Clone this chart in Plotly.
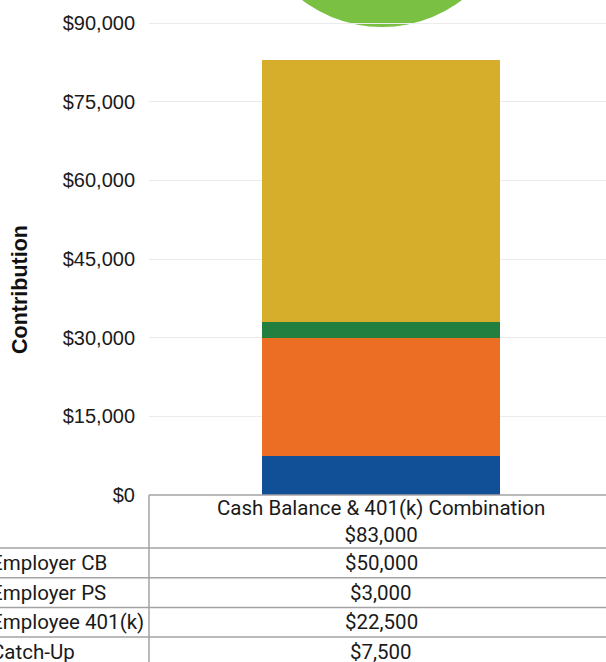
import plotly.graph_objects as go

# ---- data ----
category = ["Cash Balance & 401(k) Combination"]
total = [83000]
series_names = ["Catch-Up", "Employee 401(k)", "Employer PS", "Employer CB"]
series_values = [[7500], [22500], [3000], [50000]]
series_colors = ["#114F96", "#EB6E24", "#237F3F", "#D7AE2B"]
table_labels = ["Employer CB", "Employer PS", "Employee 401(k)", "Catch-Up"]
table_values = [50000, 3000, 22500, 7500]
y_ticks = [0, 15000, 30000, 45000, 60000, 75000, 90000]

W, H = 606, 662


def px(x):
    return x / W


def py(y):
    return 1 - y / H


fig = go.Figure()
for name, vals, col in zip(series_names, series_values, series_colors):
    fig.add_trace(go.Bar(x=category, y=vals, name=name, marker=dict(color=col, line=dict(width=0)),
                         width=0.521, hoverinfo="name+y"))

grid_top = 495
fig.update_layout(
    width=W, height=H,
    margin=dict(l=0, r=0, t=0, b=0),
    paper_bgcolor="white", plot_bgcolor="white",
    barmode="stack", showlegend=False,
    xaxis=dict(domain=[px(149), 1], range=[-0.5077, 0.4923], showticklabels=False,
               showgrid=False, zeroline=False, showline=False, fixedrange=True),
    yaxis=dict(domain=[py(grid_top), 1], range=[0, 90000 * 495 / 472],
               tickvals=y_ticks, tickformat="$,.0f",
               tickfont=dict(family="Liberation Sans, Arial", size=20, color="#1a1a1a"),
               ticklabelstandoff=13,
               showgrid=True, gridcolor="#EBEBEB", gridwidth=1,
               zeroline=False, showline=False, automargin=False),
)

# y axis title
fig.add_annotation(xref="paper", yref="paper", x=px(20), y=py(290), showarrow=False,
                   text="<b>Contribution</b>", textangle=-90, xanchor="center", yanchor="middle",
                   font=dict(family="Liberation Sans, Arial", size=21.5, color="#111"))

# decorative circle at top
fig.add_shape(type="circle", xref="paper", yref="paper",
              x0=px(382 - 132), x1=px(382 + 132), y0=py(27), y1=py(27 - 264),
              fillcolor="#7AC143", line=dict(width=0), layer="below")

# ---- data table below the axis ----
line_col = "#A3A3A3"
lw = 1.5
tfont = dict(family="Roboto, Noto Sans", size=20.5, color="#1a1a1a")
col_center = (149 + 613) / 2
header_bottom = 548
row_h = 29.7

fig.add_shape(type="line", xref="paper", yref="paper", x0=px(149), x1=1, y0=py(grid_top), y1=py(grid_top),
              line=dict(color=line_col, width=lw))
fig.add_shape(type="line", xref="paper", yref="paper", x0=px(149), x1=px(149), y0=py(grid_top), y1=0,
              line=dict(color=line_col, width=lw))
for i in range(len(table_labels)):
    yl = header_bottom + i * row_h
    fig.add_shape(type="line", xref="paper", yref="paper", x0=0, x1=1, y0=py(yl), y1=py(yl),
                  line=dict(color=line_col, width=lw))

fig.add_annotation(xref="paper", yref="paper", x=px(col_center), y=py(521), showarrow=False,
                   text=f"{category[0]}<br>${total[0]:,}", font=tfont, align="center",
                   xanchor="center", yanchor="middle")
for i, (lab, val) in enumerate(zip(table_labels, table_values)):
    yc = header_bottom + i * row_h + row_h / 2
    fig.add_annotation(xref="paper", yref="paper", x=px(-11), y=py(yc), showarrow=False,
                       text=lab, font=tfont, xanchor="left", yanchor="middle")
    fig.add_annotation(xref="paper", yref="paper", x=px(col_center), y=py(yc), showarrow=False,
                       text=f"${val:,}", font=tfont, xanchor="center", yanchor="middle")

fig.write_html("out.html", config={"displayModeBar": False},
               post_script="document.body.style.margin='0';document.body.style.overflow='hidden';")
